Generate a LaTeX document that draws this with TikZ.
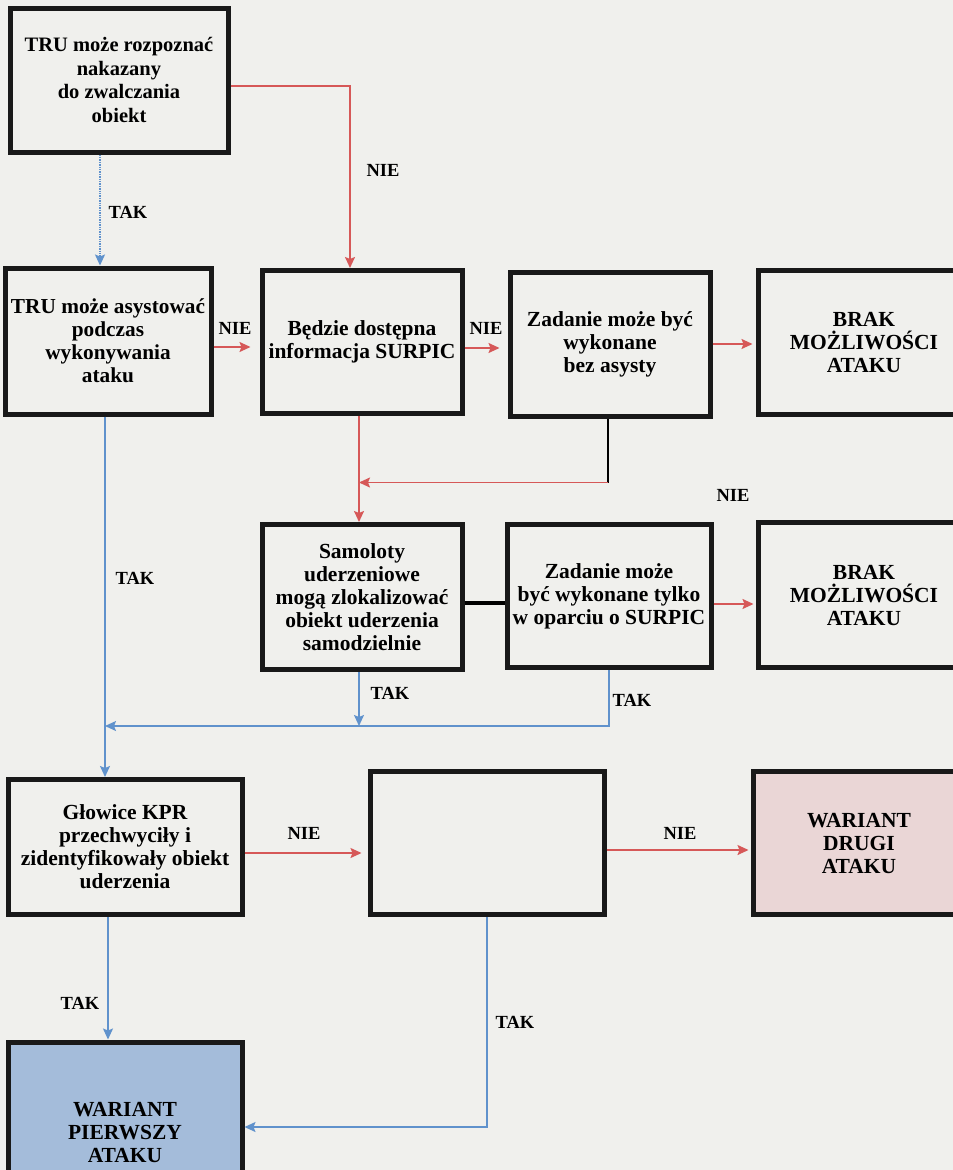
\documentclass[tikz,border=0pt]{standalone}
\usepackage{fontspec}
\setmainfont{Liberation Serif}
\usetikzlibrary{arrows.meta}
\definecolor{paper}{RGB}{240,240,237}
\definecolor{lred}{RGB}{214,88,88}
\definecolor{lblue}{RGB}{96,146,204}
\definecolor{bluefill}{RGB}{164,188,218}
\definecolor{pinkfill}{RGB}{234,214,214}
\begin{document}
\begin{tikzpicture}[x=1pt,y=-1pt,
 box/.style={draw=black!90, line width=5pt, fill=paper, align=center, inner sep=0pt, font=\fontsize{21.5}{23}\selectfont\bfseries},
 lab/.style={inner sep=0pt, font=\fontsize{18.5}{20}\selectfont\bfseries},
 rarr/.style={draw=lred, line width=1.7pt, -{Stealth[length=11pt,width=10pt,inset=2pt]}},
 barr/.style={draw=lblue, line width=1.4pt, -{Stealth[length=11pt,width=10pt,inset=2pt]}},
 kline/.style={draw=black, line width=1.8pt},
 kthick/.style={draw=black, line width=3.5pt},
]
\useasboundingbox (0,0) rectangle (953,1170);
\clip (0,0) rectangle (953,1170);
\fill[paper] (0,0) rectangle (953,1170);

% boxes
\node[box, font=\fontsize{20.5}{23.5}\selectfont\bfseries, minimum width=218pt, minimum height=144pt] (A1) at (119,80) {TRU może rozpoznać\\nakazany\\do zwalczania\\obiekt};
\node[box, font=\fontsize{21.3}{23}\selectfont\bfseries, minimum width=206pt, minimum height=146pt] (B1) at (108,341) {TRU może asystować\\podczas\\wykonywania\\ataku};
\node[box, minimum width=200pt, minimum height=143pt] (B2) at (362,342) {Będzie dostępna\\informacja SURPIC};
\node[box, minimum width=200pt, minimum height=144pt] (B3) at (610,344) {Zadanie może być\\wykonane\\bez asysty};
\node[box, minimum width=212pt, minimum height=144pt] (B4) at (864,342) {BRAK\\MOŻLIWOŚCI\\ATAKU};
\node[box, minimum width=200pt, minimum height=145pt] (C1) at (362,597) {Samoloty\\uderzeniowe\\mogą zlokalizować\\obiekt uderzenia\\samodzielnie};
\node[box, minimum width=204pt, minimum height=143pt] (C2) at (609,596) {Zadanie może\\być wykonane tylko\\w oparciu o SURPIC};
\node[box, minimum width=212pt, minimum height=145pt] (C3) at (864,595) {BRAK\\MOŻLIWOŚCI\\ATAKU};
\node[box, minimum width=234pt, minimum height=135pt] (D1) at (125,847) {Głowice KPR\\przechwyciły i\\zidentyfikowały obiekt\\uderzenia};
\node[box, minimum width=234pt, minimum height=143pt] (D2) at (487,843) {};
\node[box, fill=pinkfill, minimum width=212pt, minimum height=143pt] (D3) at (859,843) {WARIANT\\DRUGI\\ATAKU};
\node[box, fill=bluefill, minimum width=234pt, minimum height=180pt] (E1) at (125,1132) {WARIANT\\PIERWSZY\\ATAKU};

% labels
\node[lab] (nA) at (383,170) {NIE};
\node[lab] (tA) at (128,212) {TAK};
\node[lab] (n1) at (235,328) {NIE};
\node[lab] (n2) at (486,328) {NIE};
\node[lab] (n3) at (733,495) {NIE};
\node[lab] (t1) at (135,578) {TAK};
\node[lab] (t2) at (390,693) {TAK};
\node[lab] (t3) at (632,700) {TAK};
\node[lab] (n4) at (304,833) {NIE};
\node[lab] (n5) at (680,833) {NIE};
\node[lab] (t4) at (80,1003) {TAK};
\node[lab] (t5) at (515,1022) {TAK};

% connectors
\draw[rarr] ([yshift=-6pt]A1.east) -| ([xshift=-12pt]B2.north);
\draw[barr, densely dotted] ([xshift=-8pt]A1.south -| B1.north) -- ([xshift=-8pt]B1.north);
\draw[rarr, shorten >=9pt] ([yshift=-6pt]B1.east) -- ([yshift=-6pt]B1.east -| B2.west);
\draw[rarr, shorten >=8pt] ([yshift=-6pt]B2.east) -- ([yshift=-6pt]B2.east -| B3.west);
\draw[rarr, shorten >=3pt] (B3.east) -- (B3.east -| B4.west);
\draw[rarr] ([xshift=-3pt]B2.south) -- ([xshift=-3pt]C1.north);
\draw[kline] ([xshift=-2pt]B3.south) -- ++(0,64) coordinate (j1);
\draw[rarr] (j1) -- ([xshift=-3pt]j1 -| B2.south);
\draw[kthick] ([yshift=-6pt]C1.east) -- ([yshift=-6pt]C1.east -| C2.west);
\draw[rarr, shorten >=2pt] ([yshift=-8pt]C2.east) -- ([yshift=-8pt]C2.east -| C3.west);
\coordinate (j2) at (105,726);
\draw[barr] ([xshift=-3pt]C1.south) -- ([xshift=-3pt]C1.south |- j2);
\draw[barr] (C2.south) |- (j2);
\draw[barr] ([xshift=-3pt]B1.south) -- ([xshift=-3pt]B1.south |- D1.north);
\draw[rarr, shorten >=6pt] ([yshift=-6pt]D1.east) -- ([yshift=-6pt]D1.east -| D2.west);
\draw[rarr, shorten >=2pt] ([yshift=-7pt]D2.east) -- ([yshift=-7pt]D2.east -| D3.west);
\draw[barr] ([xshift=-17pt]D1.south) -- ([xshift=-17pt]E1.north);
\draw[barr] (D2.south) |- ([yshift=5pt]E1.east);
\end{tikzpicture}
\end{document}
